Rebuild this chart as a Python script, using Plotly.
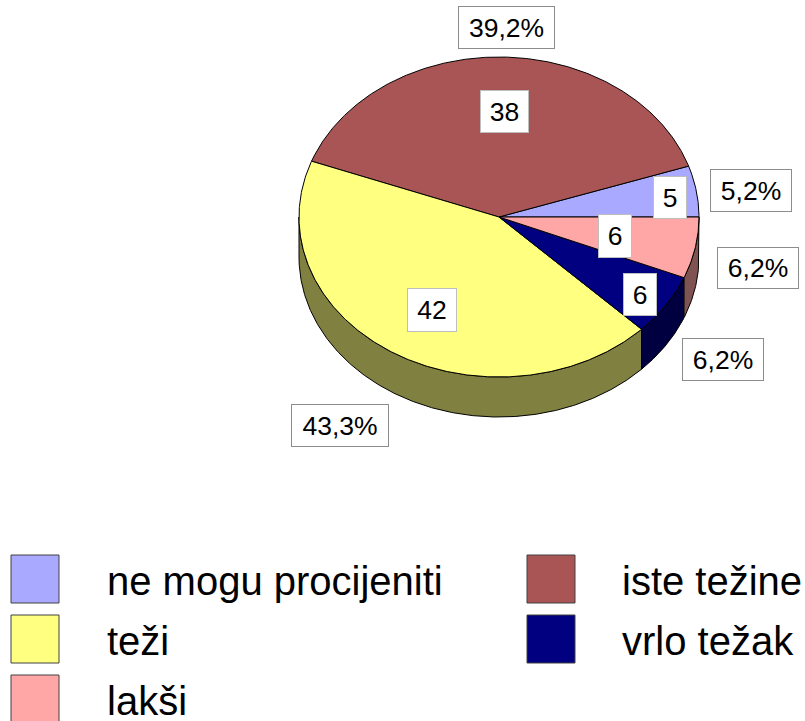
import numpy as np
import plotly.graph_objects as go

CATEGORIES = ["ne mogu procijeniti", "iste težine", "teži", "vrlo težak", "lakši"]
VALUES = [5, 38, 42, 6, 6]
PERCENT_LABELS = ["5,2%", "39,2%", "43,3%", "6,2%", "6,2%"]

TOP_COLORS = ["#A9A9FF", "#AA5555", "#FFFF80", "#000080", "#FFA6A6"]
SIDE_COLORS = ["#555580", "#552B2B", "#808040", "#000040", "#805353"]

# pie geometry, page pixels
CX, CY, RX, RY, DEPTH = 499, 217, 200, 160, 40
FONT = "Liberation Sans"

# label boxes as (x0, x1, y0, y1)
VALUE_BOXES = [(653, 686, 176, 218), (480, 528, 90, 132), (407, 456, 288, 331),
               (623, 656, 273, 315), (598, 631, 214, 257)]
PERCENT_BOXES = [(710, 791, 169, 211), (458, 554, 6, 48), (291, 388, 404, 446),
                 (682, 763, 338, 380), (717, 798, 247, 288)]

# legend swatch centre and text start, same order as CATEGORIES
LEGEND_POS = [(35, 579, 106), (551, 579, 621), (35, 639, 106),
              (551, 639, 621), (35, 699, 106)]
LEGEND_TEXT_DY = 2


def arc(t0, t1, dy=0):
    t = np.radians(np.linspace(t0, t1, max(int(abs(t1 - t0)) * 2, 2) + 1))
    return CX + RX * np.cos(t), CY - RY * np.sin(t) + dy


def add_poly(fig, x, y, color):
    fig.add_trace(go.Scatter(
        x=x, y=y, mode="lines", fill="toself", fillcolor=color,
        line=dict(color="#000000", width=1), hoverinfo="skip", showlegend=False,
    ))


def add_box(fig, box, text, border):
    x0, x1, y0, y1 = box
    fig.add_annotation(
        x=(x0 + x1) / 2, y=(y0 + y1) / 2, xref="x", yref="y", text=text,
        showarrow=False, xanchor="center", yanchor="middle",
        width=x1 - x0 - 1, height=y1 - y0 - 1, borderpad=0,
        bgcolor="#FFFFFF", bordercolor=border, borderwidth=1,
        font=dict(family=FONT, size=26.5, color="#000000"),
    )


fig = go.Figure()

edges = np.cumsum([0] + VALUES) / sum(VALUES) * 360

# rim first, only the front half of the pie shows it
for i in range(len(VALUES)):
    t0, t1 = max(edges[i], 180), min(edges[i + 1], 360)
    if t1 <= t0:
        continue
    xa, ya = arc(t0, t1)
    xb, yb = arc(t1, t0, DEPTH)
    add_poly(fig, np.r_[xa, xb, xa[0]], np.r_[ya, yb, ya[0]], SIDE_COLORS[i])

for i in range(len(VALUES)):
    xa, ya = arc(edges[i], edges[i + 1])
    add_poly(fig, np.r_[CX, xa, CX], np.r_[CY, ya, CY], TOP_COLORS[i])

for box, value in zip(VALUE_BOXES, VALUES):
    add_box(fig, box, str(value), "#BEBEBE")
for box, label in zip(PERCENT_BOXES, PERCENT_LABELS):
    add_box(fig, box, label, "#8C8C8C")

for (sx, sy, tx), name, color in zip(LEGEND_POS, CATEGORIES, TOP_COLORS):
    fig.add_trace(go.Scatter(
        x=[sx], y=[sy], mode="markers", hoverinfo="skip", showlegend=False,
        marker=dict(symbol="square", size=48, color=color,
                    line=dict(color="#404040", width=1)),
    ))
    fig.add_annotation(
        x=tx, y=sy + LEGEND_TEXT_DY, xref="x", yref="y", text=name, showarrow=False,
        xanchor="left", yanchor="middle", borderpad=0,
        font=dict(family=FONT, size=40, color="#000000"),
    )

fig.update_layout(
    width=805,
    height=721,
    margin=dict(l=0, r=0, t=0, b=0),
    paper_bgcolor="#FFFFFF",
    plot_bgcolor="#FFFFFF",
    showlegend=False,
    xaxis=dict(range=[0, 805], visible=False, fixedrange=True),
    yaxis=dict(range=[721, 0], visible=False, fixedrange=True),
)

fig.write_html(
    "out.html",
    config=dict(displayModeBar=False),
    post_script="document.body.style.margin='0';document.body.style.overflow='hidden';",
)
